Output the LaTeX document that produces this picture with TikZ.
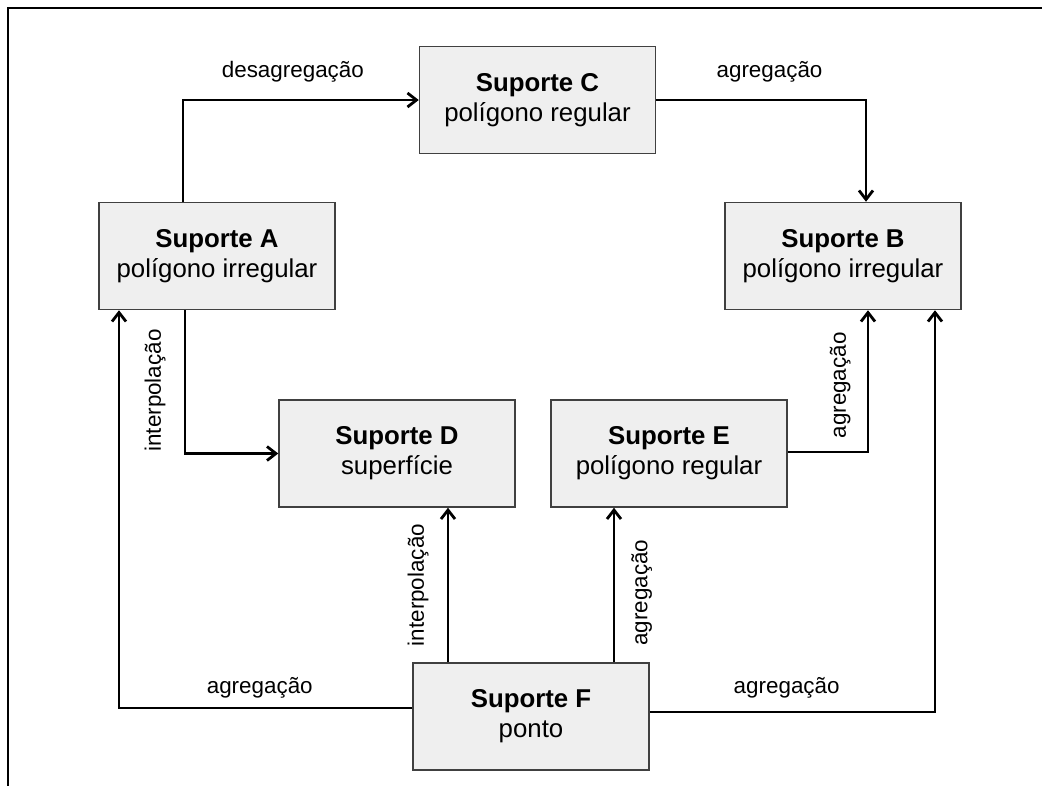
\documentclass[tikz,border=0pt]{standalone}
\usepackage{fontspec}
\setmainfont{Liberation Sans}
\usetikzlibrary{arrows.meta}
\definecolor{boxfill}{HTML}{EFEFEF}
\definecolor{boxline}{HTML}{404040}
\tikzstyle{orientedarc}=[->,>={Straight Barb[length=9pt,width=14pt]},line width=2.8pt]
\tikzstyle{arclabel}=[inner xsep=0pt,font=\fontsize{22.4}{26}\selectfont]
\tikzstyle{supportelement}=[draw=boxline,fill=boxfill,line width=1.5pt,align=center,minimum width=236pt,minimum height=107pt,inner sep=0pt,font=\fontsize{25.8}{30}\selectfont]
\tikzstyle{frameline}=[line width=2pt]

\begin{document}
\begin{tikzpicture}[x=1pt,y=-1pt]
\useasboundingbox (0,0) rectangle (1042,785);
\draw[frameline] (8,800) -- (8,8) -- (1060,8);

\node[supportelement] (SA) at (217,256) {\textbf{Suporte A} \\ polígono irregular};
\node[supportelement] (SB) at (843,256) {\textbf{Suporte B} \\ polígono irregular};
\node[supportelement] (SC) at (537.5,100) {\textbf{Suporte C} \\ polígono regular};
\node[supportelement] (SD) at (397,453.5) {\textbf{Suporte D} \\ superfície};
\node[supportelement] (SE) at (669,453.5) {\textbf{Suporte E} \\ polígono regular};
\node[supportelement] (SF) at (531,716.5) {\textbf{Suporte F} \\ ponto};

\draw[orientedarc] ([xshift=-34pt]SA.north) |- (SC.west) node[arclabel,pos=0.733,above,inner ysep=16pt]{desagregação};
\draw[orientedarc] (SC.east) -| ([xshift=23pt]SB.north) node[arclabel,pos=0.27,above,inner ysep=16pt]{agregação};

\draw[orientedarc] ([xshift=-32pt]SA.south) |- (SD.west) node[arclabel,pos=0.28,rotate=90,anchor=south,inner ysep=18pt]{interpolação};
\draw[orientedarc] ([yshift=1.5pt]SE.east) -| ([xshift=25pt]SB.south) node[arclabel,pos=0.735,rotate=90,anchor=south,inner ysep=16pt]{agregação};

\draw[orientedarc] ([xshift=-83pt]SF.north) -- ([xshift=51pt]SD.south) node[arclabel,midway,rotate=90,anchor=south,inner ysep=18pt]{interpolação};
\draw[orientedarc] ([xshift=83pt]SF.north) -- ([xshift=-55pt]SE.south) node[arclabel,pos=0.45,rotate=90,anchor=north,inner ysep=16pt]{agregação};

\draw[orientedarc] ([yshift=8.5pt]SF.west) -| ([xshift=-98pt]SA.south) node[arclabel,pos=0.26,above,inner ysep=8pt]{agregação};
\draw[orientedarc] ([yshift=4.5pt]SF.east) -| ([xshift=92pt]SB.south) node[arclabel,pos=0.24,above,inner ysep=12pt]{agregação};

\end{tikzpicture}
\end{document}
